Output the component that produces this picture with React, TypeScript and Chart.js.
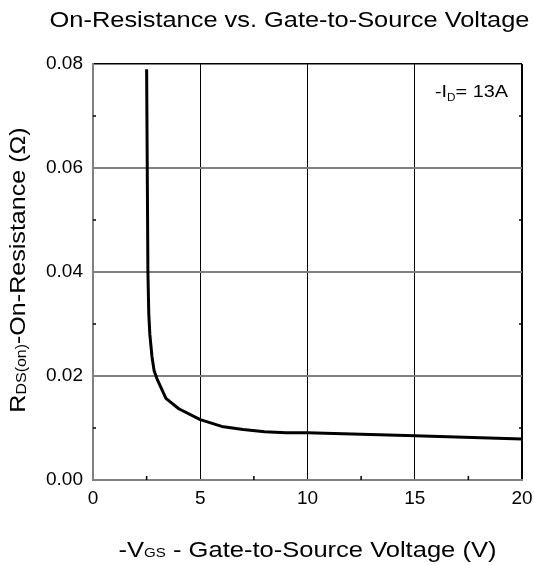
import React, { useEffect, useRef } from "react";
import { Chart, registerables } from "chart.js";

Chart.register(...registerables);

// ---- data ----
const vgs = [2.5, 2.56, 2.6, 2.65, 2.75, 2.85, 3.0, 3.4, 4.0, 5.0, 6.0, 7.0, 8.0, 9.0, 10, 15, 20];
const rds = [0.079, 0.04, 0.032, 0.028, 0.0237, 0.021, 0.0193, 0.0157, 0.0137, 0.0116, 0.0103, 0.0097, 0.0093, 0.0091, 0.0091, 0.0085, 0.0079];

const xTicks = [0, 5, 10, 15, 20];
const yTicks = [0, 0.02, 0.04, 0.06, 0.08];
const xMinor = [2.5, 7.5, 12.5, 17.5];
const yMinor = [0.01, 0.03, 0.05, 0.07];

const TITLE = "On-Resistance vs. Gate-to-Source Voltage";
const FONT = "'Liberation Sans', Arial, sans-serif";

type Part = { t: string; size: number; dy?: number };

function drawRich(
  ctx: CanvasRenderingContext2D,
  parts: Part[],
  x: number,
  y: number,
  sx: number,
  angle = 0
) {
  ctx.save();
  ctx.translate(x, y);
  ctx.rotate(angle);
  ctx.scale(sx, 1);
  let total = 0;
  for (const p of parts) {
    ctx.font = `${p.size}px ${FONT}`;
    total += ctx.measureText(p.t).width;
  }
  let cur = -total / 2;
  ctx.textAlign = "left";
  ctx.textBaseline = "alphabetic";
  ctx.fillStyle = "#000";
  for (const p of parts) {
    ctx.font = `${p.size}px ${FONT}`;
    ctx.fillText(p.t, cur, p.dy || 0);
    cur += ctx.measureText(p.t).width;
  }
  ctx.restore();
}

const decorPlugin = {
  id: "decor",
  afterDraw(chart: any) {
    const ctx: CanvasRenderingContext2D = chart.ctx;
    const xs = chart.scales.x;
    const ys = chart.scales.y;
    const area = chart.chartArea;

    // minor ticks
    ctx.save();
    ctx.strokeStyle = "#000";
    ctx.lineWidth = 1.5;
    for (const v of xMinor) {
      const px = xs.getPixelForValue(v);
      ctx.beginPath();
      ctx.moveTo(px, area.bottom);
      ctx.lineTo(px, area.bottom - 4);
      ctx.stroke();
    }
    for (const v of yMinor) {
      const py = ys.getPixelForValue(v);
      ctx.beginPath();
      ctx.moveTo(area.left, py);
      ctx.lineTo(area.left + 3, py);
      ctx.moveTo(area.right, py);
      ctx.lineTo(area.right - 3, py);
      ctx.stroke();
    }
    ctx.restore();

    // title
    drawRich(ctx, [{ t: TITLE, size: 22 }], 289.5, 27, 1.154);
    // x axis title
    drawRich(
      ctx,
      [
        { t: "-V", size: 22 },
        { t: "GS", size: 13 },
        { t: " - Gate-to-Source Voltage (V)", size: 22 },
      ],
      307.5,
      557,
      1.16
    );
    // y axis title
    drawRich(
      ctx,
      [
        { t: "R", size: 22 },
        { t: "DS(on)", size: 14, dy: 1 },
        { t: "-On-Resistance (\u03A9)", size: 22 },
      ],
      25,
      270,
      1.14,
      -Math.PI / 2
    );
    // annotation
    drawRich(
      ctx,
      [
        { t: "-I", size: 17 },
        { t: "D", size: 10, dy: 4 },
        { t: "= 13A", size: 17 },
      ],
      471.5,
      96.7,
      1.17
    );
  },
};

export default function App() {
  const ref = useRef<HTMLCanvasElement | null>(null);

  useEffect(() => {
    document.body.style.margin = "0";
    const canvas = ref.current;
    if (!canvas) return;
    const near = (a: number, b: number) => Math.abs(a - b) < 1e-9;
    const chart = new Chart(canvas, {
      type: "line",
      data: {
        datasets: [
          {
            data: vgs.map((x, i) => ({ x, y: rds[i] })),
            borderColor: "#000",
            borderWidth: 3,
            borderJoinStyle: "round",
            borderCapStyle: "butt",
            pointRadius: 0,
            tension: 0,
            fill: false,
          },
        ],
      },
      options: {
        responsive: false,
        animation: false,
        devicePixelRatio: 1,
        layout: { padding: { left: 0, top: 64, right: 12, bottom: 0 } },
        plugins: {
          legend: { display: false },
          title: { display: false },
          tooltip: { enabled: false },
        },
        scales: {
          x: {
            type: "linear",
            min: xTicks[0],
            max: xTicks[xTicks.length - 1],
            afterBuildTicks: (s: any) => {
              s.ticks = xTicks.map((v) => ({ value: v }));
            },
            afterFit: (s: any) => {
              s.height = 85;
              s.paddingLeft = 0;
              s.paddingRight = 0;
            },
            ticks: {
              padding: 7,
              color: "#000",
              font: { family: FONT, size: 19 },
              maxRotation: 0,
              callback: (v: any) => String(v),
            },
            grid: {
              drawTicks: false,
              color: (c: any) =>
                c.tick && near(c.tick.value, 0) ? "rgba(0,0,0,0)" : "#000",
              lineWidth: (c: any) =>
                c.tick && near(c.tick.value, 20) ? 2 : 1,
            },
            border: { color: "#808080", width: 2 },
          },
          y: {
            type: "linear",
            min: yTicks[0],
            max: yTicks[yTicks.length - 1],
            afterBuildTicks: (s: any) => {
              s.ticks = yTicks.map((v) => ({ value: v }));
            },
            afterFit: (s: any) => {
              s.width = 93;
              s.paddingTop = 0;
              s.paddingBottom = 0;
            },
            ticks: {
              padding: 10,
              color: "#000",
              font: { family: FONT, size: 19 },
              callback: (v: any) => Number(v).toFixed(2),
            },
            grid: {
              drawTicks: false,
              color: (c: any) => {
                if (!c.tick) return "#808080";
                if (near(c.tick.value, 0)) return "rgba(0,0,0,0)";
                if (near(c.tick.value, 0.08)) return "#000";
                return "#808080";
              },
              lineWidth: (c: any) =>
                c.tick && near(c.tick.value, 0.08) ? 1.5 : 2,
            },
            border: { color: "#808080", width: 2 },
          },
        },
      },
      plugins: [decorPlugin],
    });
    return () => chart.destroy();
  }, []);

  return (
    <canvas
      ref={ref}
      width={534}
      height={565}
      style={{ display: "block", width: 534, height: 565 }}
    />
  );
}
